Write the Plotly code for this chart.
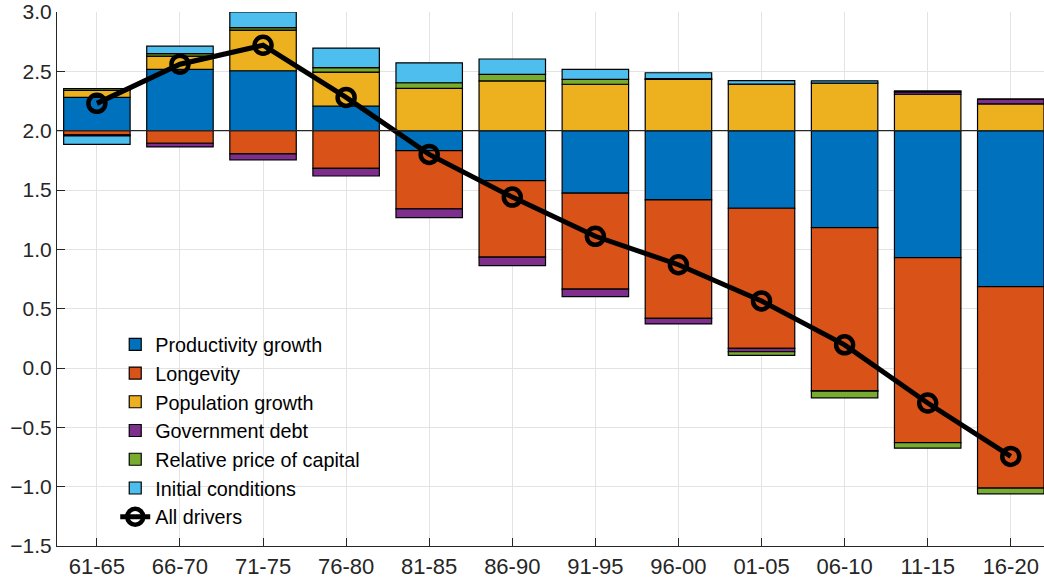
import numpy as np
import plotly.graph_objects as go

categories = ["61-65", "66-70", "71-75", "76-80", "81-85", "86-90",
              "91-95", "96-00", "01-05", "06-10", "11-15", "16-20"]

productivity = [0.28, 0.517, 0.505, 0.208, -0.168, -0.421, -0.527, -0.584, -0.654, -0.817, -1.07, -1.314]
longevity = [-0.035, -0.106, -0.196, -0.317, -0.491, -0.645, -0.809, -0.997, -1.18, -1.373, -1.559, -1.698]
population = [0.06, 0.112, 0.343, 0.286, 0.357, 0.419, 0.391, 0.433, 0.393, 0.40, 0.307, 0.225]
gov_debt = [-0.01, -0.031, -0.05, -0.065, -0.073, -0.071, -0.062, -0.048, -0.029, -0.005, 0.02, 0.04]
rel_price = [0.015, 0.02, 0.02, 0.038, 0.047, 0.056, 0.042, 0.005, -0.03, -0.056, -0.047, -0.048]
initial = [-0.07, 0.063, 0.132, 0.164, 0.168, 0.129, 0.084, 0.05, 0.028, 0.02, 0.008, 0.0]
all_drivers = [2.23, 2.56, 2.72, 2.28, 1.80, 1.44, 1.11, 0.87, 0.565, 0.195, -0.295, -0.745]

baseline = 2.0

series = [
    ("Productivity growth", productivity, "#0072BD"),
    ("Longevity", longevity, "#D95319"),
    ("Population growth", population, "#EDB120"),
    ("Government debt", gov_debt, "#7E2F8E"),
    ("Relative price of capital", rel_price, "#77AC30"),
    ("Initial conditions", initial, "#4DBEEE"),
]

x = list(range(len(categories)))
fig = go.Figure()

pos_base = np.full(len(categories), baseline)
neg_base = np.full(len(categories), baseline)
for name, vals, color in series:
    v = np.array(vals, dtype=float)
    base = np.where(v >= 0, pos_base, neg_base)
    fig.add_trace(go.Bar(
        x=x, y=v, base=base, name=name, width=0.8,
        marker=dict(color=color, line=dict(color="#000000", width=1.2)),
    ))
    pos_base = pos_base + np.where(v >= 0, v, 0)
    neg_base = neg_base + np.where(v < 0, v, 0)

fig.add_trace(go.Scatter(
    x=x, y=all_drivers, name="All drivers", mode="lines+markers",
    line=dict(color="#000000", width=5),
    marker=dict(symbol="circle-open", size=17, color="#000000", line=dict(width=4.5)),
))

fig.add_shape(type="line", xref="paper", x0=0, x1=1, yref="y", y0=baseline, y1=baseline,
              line=dict(color="#262626", width=1.2), layer="above")

fig.update_layout(
    barmode="overlay",
    width=1044, height=585,
    margin=dict(l=57, r=0, t=12, b=39),
    paper_bgcolor="white", plot_bgcolor="white",
    font=dict(family="Liberation Sans, Arial, sans-serif", size=22, color="#262626"),
    showlegend=True,
    legend=dict(x=0.059, y=0.414, xanchor="left", yanchor="top",
                bgcolor="rgba(0,0,0,0)", font=dict(size=19.8, color="#000000"),
                tracegroupgap=0),
)
fig.update_xaxes(
    range=[-0.48, 11.4], tickmode="array", tickvals=x, ticktext=categories,
    showgrid=True, gridcolor="#e3e3e3", gridwidth=1,
    showline=True, linecolor="#262626", linewidth=1.2,
    ticks="inside", ticklen=8, tickcolor="#262626", zeroline=False,
)
fig.update_yaxes(
    range=[-1.5, 3.0], dtick=0.5, tick0=0, tickformat=".1f",
    tickfont=dict(size=21),
    showgrid=True, gridcolor="#e3e3e3", gridwidth=1,
    showline=True, linecolor="#262626", linewidth=1.2,
    ticks="inside", ticklen=8, tickcolor="#262626", zeroline=False,
)

fig.write_html("out.html")
